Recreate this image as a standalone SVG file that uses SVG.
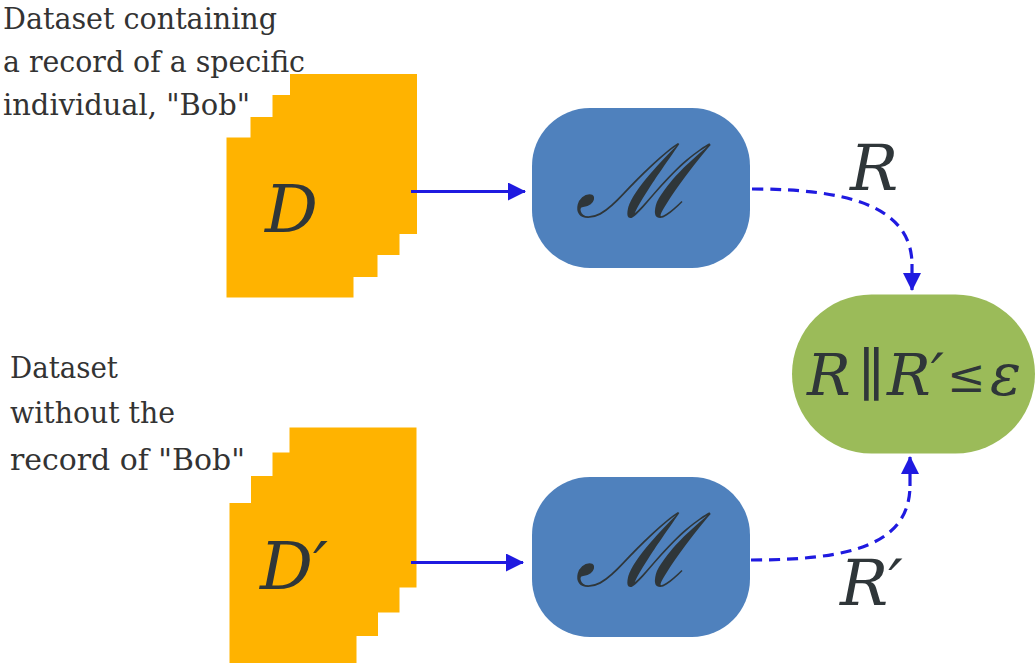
<svg xmlns="http://www.w3.org/2000/svg" width="1035" height="663" viewBox="0 0 1035 663">
<defs>
<style>
.note{font-size:30px;fill:#333333}
.math{font-style:italic;fill:#2f3639}
.up{font-style:normal}
.data{fill:#FFB300}
.conn{fill:none;stroke:#1F1AE0;stroke-width:3.2}
.dash{stroke-dasharray:11 7}
</style>
<marker id="ah" viewBox="0 0 18 18" refX="17" refY="9" markerWidth="18" markerHeight="18" markerUnits="userSpaceOnUse" orient="auto">
<path d="M0,0 L18,9 L0,18 Z" fill="#1F1AE0"/>
</marker>
</defs>
<rect width="1035" height="663" fill="#ffffff"/>

<g id="note-top" font-family="DejaVu Serif, serif">
<text class="note" x="3" y="29" textLength="274" lengthAdjust="spacingAndGlyphs">Dataset containing</text>
<text class="note" x="3" y="72" textLength="302" lengthAdjust="spacingAndGlyphs">a record of a specific</text>
<text class="note" x="3" y="115" textLength="247" lengthAdjust="spacingAndGlyphs">individual, "Bob"</text>
</g>

<g id="note-bottom" font-family="DejaVu Serif, serif">
<text class="note" x="10" y="378" textLength="108" lengthAdjust="spacingAndGlyphs">Dataset</text>
<text class="note" x="10" y="423" textLength="165" lengthAdjust="spacingAndGlyphs">without the</text>
<text class="note" x="10" y="470" textLength="235" lengthAdjust="spacingAndGlyphs">record of "Bob"</text>
</g>

<g id="dataset-D" font-family="DejaVu Serif, serif">
<rect class="data" x="290" y="74" width="127" height="160"/>
<rect class="data" x="272.5" y="95" width="127" height="160"/>
<rect class="data" x="250.5" y="117" width="127" height="160"/>
<rect class="data" x="226.5" y="137.5" width="127" height="160"/>
<text class="math" x="265" y="232" font-size="66">D</text>
</g>

<g id="dataset-D-prime" font-family="DejaVu Serif, serif">
<rect class="data" x="289.5" y="427.5" width="127" height="160"/>
<rect class="data" x="272.5" y="452.5" width="127" height="160"/>
<rect class="data" x="251" y="476" width="127" height="160"/>
<rect class="data" x="229.5" y="503" width="127" height="160"/>
<text class="math" x="260" y="589" font-size="66">D′</text>
</g>

<g id="mechanism-top" font-family="Liberation Serif, serif">
<rect x="532" y="108" width="218" height="160" rx="58" fill="#4F81BD"/>
<text class="math" x="634" y="217" font-size="102" text-anchor="middle">ℳ</text>
</g>

<g id="mechanism-bottom" font-family="Liberation Serif, serif">
<rect x="532" y="477" width="218" height="160" rx="58" fill="#4F81BD"/>
<text class="math" x="634" y="586" font-size="102" text-anchor="middle">ℳ</text>
</g>

<g id="result" font-family="DejaVu Serif, serif">
<rect x="792" y="294.5" width="243" height="159" rx="79.5" fill="#9BBB59"/>
<text class="math" x="807" y="395" font-size="58">R</text>
<text class="math up" x="858" y="395" font-size="58">∥</text>
<text class="math" x="887" y="395" font-size="58">R′</text>
<text class="math up" x="947" y="392" font-size="46">≤</text>
<text class="math" x="990" y="395" font-size="58">ε</text>
</g>

<g id="labels" font-family="DejaVu Serif, serif">
<text class="math" x="850" y="190" font-size="64">R</text>
<text class="math" x="840" y="605" font-size="64">R′</text>
</g>

<g id="connectors">
<path class="conn" d="M411,191.5 L525,191.5" marker-end="url(#ah)"/>
<path class="conn" d="M411,562.5 L523,562.5" marker-end="url(#ah)"/>
<path class="conn dash" d="M752,189 C845,189 912,205 912,265"/>
<path class="conn" d="M912,264 L912,290" stroke-width="0" marker-end="url(#ah)"/>
<path class="conn dash" d="M751,560 C850,560 910,545 910,485"/>
<path class="conn" d="M910,486 L910,457" stroke-width="0" marker-end="url(#ah)"/>
</g>
</svg>
